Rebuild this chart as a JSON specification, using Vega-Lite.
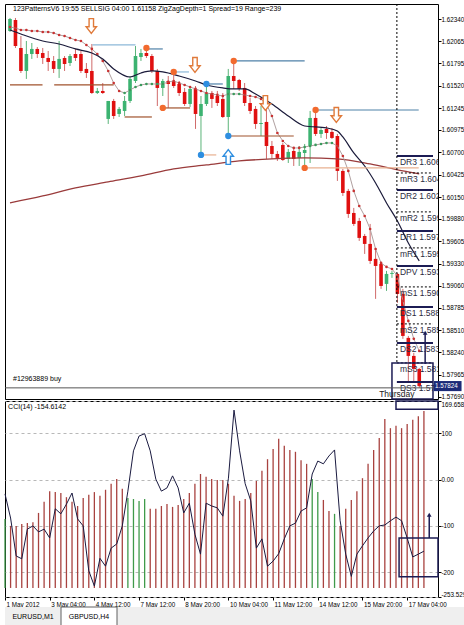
{
"$schema": "https://vega.github.io/schema/vega-lite/v6.json",
"padding": {"left": 2, "top": 3, "right": 0, "bottom": 0},
"background": "#ffffff",
"bounds": "flush",
"spacing": 2,
"config": {
  "view": {"stroke": "#000000", "strokeWidth": 1},
  "font": "Liberation Sans",
  "axis": {"labelFont": "Liberation Sans", "labelFontSize": 6.3, "labelColor": "#000000", "tickColor": "#000000", "tickSize": 3, "domain": false, "title": null, "labelOverlap": false, "labelFlush": false, "grid": false, "labelPadding": 0}
},
"datasets": {
  "candles": [
{"i":0,"o":1.62193,"h":1.62353,"l":1.62181,"c":1.62341},
{"i":1,"o":1.62328,"h":1.62353,"l":1.61984,"c":1.62008},
{"i":2,"o":1.61984,"h":1.62131,"l":1.61676,"c":1.61701},
{"i":3,"o":1.61701,"h":1.62070,"l":1.61603,"c":1.61910},
{"i":4,"o":1.61910,"h":1.62045,"l":1.61849,"c":1.61972},
{"i":5,"o":1.61972,"h":1.61996,"l":1.61861,"c":1.61910},
{"i":6,"o":1.61922,"h":1.61984,"l":1.61787,"c":1.61861},
{"i":7,"o":1.61861,"h":1.61947,"l":1.61701,"c":1.61812},
{"i":8,"o":1.61824,"h":1.61885,"l":1.61676,"c":1.61726},
{"i":9,"o":1.61726,"h":1.62070,"l":1.61615,"c":1.61849},
{"i":10,"o":1.61861,"h":1.61885,"l":1.61701,"c":1.61787},
{"i":11,"o":1.61799,"h":1.61910,"l":1.61762,"c":1.61885},
{"i":12,"o":1.61910,"h":1.61972,"l":1.61824,"c":1.61861},
{"i":13,"o":1.61910,"h":1.61947,"l":1.61676,"c":1.61701},
{"i":14,"o":1.61726,"h":1.61799,"l":1.61615,"c":1.61676},
{"i":15,"o":1.61701,"h":1.62033,"l":1.61418,"c":1.61430},
{"i":16,"o":1.61430,"h":1.61492,"l":1.61418,"c":1.61455},
{"i":17,"o":1.61455,"h":1.61553,"l":1.61418,"c":1.61430},
{"i":18,"o":1.61111,"h":1.61332,"l":1.61049,"c":1.61332},
{"i":19,"o":1.61332,"h":1.61357,"l":1.61111,"c":1.61147},
{"i":20,"o":1.61172,"h":1.61258,"l":1.61135,"c":1.61234},
{"i":21,"o":1.61209,"h":1.61393,"l":1.61147,"c":1.61332},
{"i":22,"o":1.61332,"h":1.61639,"l":1.61307,"c":1.61603},
{"i":23,"o":1.61578,"h":1.62008,"l":1.61553,"c":1.61885},
{"i":24,"o":1.61873,"h":1.61972,"l":1.61824,"c":1.61922},
{"i":25,"o":1.61922,"h":1.61984,"l":1.61861,"c":1.61885},
{"i":26,"o":1.61885,"h":1.61910,"l":1.61676,"c":1.61701},
{"i":27,"o":1.61701,"h":1.61726,"l":1.61270,"c":1.61492},
{"i":28,"o":1.61492,"h":1.61603,"l":1.61393,"c":1.61578},
{"i":29,"o":1.61578,"h":1.61639,"l":1.61246,"c":1.61541},
{"i":30,"o":1.61578,"h":1.61676,"l":1.61492,"c":1.61516},
{"i":31,"o":1.61541,"h":1.61578,"l":1.61393,"c":1.61430},
{"i":32,"o":1.61443,"h":1.61492,"l":1.61270,"c":1.61295},
{"i":33,"o":1.61295,"h":1.61516,"l":1.61258,"c":1.61480},
{"i":34,"o":1.61480,"h":1.61516,"l":1.60988,"c":1.61172},
{"i":35,"o":1.61147,"h":1.61393,"l":1.60680,"c":1.61295},
{"i":36,"o":1.61295,"h":1.61541,"l":1.61270,"c":1.61430},
{"i":37,"o":1.61430,"h":1.61455,"l":1.61246,"c":1.61357},
{"i":38,"o":1.61393,"h":1.61455,"l":1.61270,"c":1.61307},
{"i":39,"o":1.61357,"h":1.61430,"l":1.61123,"c":1.61135},
{"i":40,"o":1.61135,"h":1.61726,"l":1.60901,"c":1.61639},
{"i":41,"o":1.61639,"h":1.61824,"l":1.61480,"c":1.61578},
{"i":42,"o":1.61590,"h":1.61603,"l":1.61455,"c":1.61480},
{"i":43,"o":1.61492,"h":1.61553,"l":1.61270,"c":1.61307},
{"i":44,"o":1.61307,"h":1.61369,"l":1.61172,"c":1.61209},
{"i":45,"o":1.61234,"h":1.61270,"l":1.60988,"c":1.61049},
{"i":46,"o":1.61049,"h":1.61270,"l":1.60901,"c":1.61061},
{"i":47,"o":1.61074,"h":1.61307,"l":1.60619,"c":1.60778},
{"i":48,"o":1.60778,"h":1.60840,"l":1.60619,"c":1.60680},
{"i":49,"o":1.60680,"h":1.60717,"l":1.60594,"c":1.60631},
{"i":50,"o":1.60791,"h":1.60815,"l":1.60594,"c":1.60606},
{"i":51,"o":1.60619,"h":1.60742,"l":1.60569,"c":1.60705},
{"i":52,"o":1.60717,"h":1.60742,"l":1.60532,"c":1.60619},
{"i":53,"o":1.60631,"h":1.60778,"l":1.60532,"c":1.60705},
{"i":54,"o":1.60692,"h":1.60803,"l":1.60532,"c":1.60729},
{"i":55,"o":1.60778,"h":1.61209,"l":1.60569,"c":1.61123},
{"i":56,"o":1.61123,"h":1.61221,"l":1.60901,"c":1.60926},
{"i":57,"o":1.60926,"h":1.61000,"l":1.60877,"c":1.60975},
{"i":58,"o":1.60988,"h":1.61024,"l":1.60865,"c":1.60938},
{"i":59,"o":1.60951,"h":1.61000,"l":1.60865,"c":1.60877},
{"i":60,"o":1.60901,"h":1.60926,"l":1.60348,"c":1.60471},
{"i":61,"o":1.60471,"h":1.60496,"l":1.60163,"c":1.60200},
{"i":62,"o":1.60225,"h":1.60250,"l":1.59893,"c":1.59942},
{"i":63,"o":1.59954,"h":1.60016,"l":1.59794,"c":1.59819},
{"i":64,"o":1.59856,"h":1.59893,"l":1.59610,"c":1.59647},
{"i":65,"o":1.59671,"h":1.59696,"l":1.59450,"c":1.59573},
{"i":66,"o":1.59573,"h":1.59819,"l":1.59327,"c":1.59364},
{"i":67,"o":1.59389,"h":1.59524,"l":1.58897,"c":1.59302},
{"i":68,"o":1.59327,"h":1.59339,"l":1.59020,"c":1.59056},
{"i":69,"o":1.59081,"h":1.59241,"l":1.58995,"c":1.59204},
{"i":70,"o":1.59204,"h":1.59241,"l":1.59155,"c":1.59216},
{"i":71,"o":1.59204,"h":1.59216,"l":1.58847,"c":1.58958},
{"i":72,"o":1.58958,"h":1.59020,"l":1.58405,"c":1.58441},
{"i":73,"o":1.58417,"h":1.58441,"l":1.57863,"c":1.58195},
{"i":74,"o":1.58195,"h":1.58232,"l":1.57863,"c":1.58035},
{"i":75,"o":1.58035,"h":1.58048,"l":1.57802,"c":1.57824}
  ],
  "ma": [{"i":0,"v":1.62205},{"i":2,"v":1.62156},{"i":6,"v":1.62070},{"i":9,"v":1.62033},{"i":12,"v":1.61972},{"i":15,"v":1.61922},{"i":17,"v":1.61849},{"i":19,"v":1.61726},{"i":22,"v":1.61627},{"i":24,"v":1.61676},{"i":26,"v":1.61701},{"i":28,"v":1.61689},{"i":31,"v":1.61639},{"i":34,"v":1.61578},{"i":36,"v":1.61529},{"i":39,"v":1.61492},{"i":41,"v":1.61480},{"i":43,"v":1.61480},{"i":45,"v":1.61418},{"i":48,"v":1.61295},{"i":51,"v":1.61147},{"i":54,"v":1.61024},{"i":58,"v":1.61000},{"i":60,"v":1.60963},{"i":61,"v":1.60889},{"i":63,"v":1.60692},{"i":65,"v":1.60532},{"i":67,"v":1.60323},{"i":69,"v":1.60077},{"i":71,"v":1.59856},{"i":73,"v":1.59585},{"i":75,"v":1.59364}],
  "ma200": [{"i":0,"v":1.60077},{"i":6,"v":1.60163},{"i":12,"v":1.60262},{"i":18,"v":1.60336},{"i":24,"v":1.60410},{"i":30,"v":1.60496},{"i":36,"v":1.60545},{"i":42,"v":1.60594},{"i":48,"v":1.60619},{"i":54,"v":1.60631},{"i":60,"v":1.60619},{"i":66,"v":1.60557},{"i":72,"v":1.60471},{"i":75,"v":1.60434}],
  "trend": [
{"i":0,"v":1.62242,"seg":"dn"},{"i":1,"v":1.62230,"seg":"dn"},{"i":2,"v":1.62205,"seg":"dn"},{"i":3,"v":1.62205,"seg":"dn"},{"i":4,"v":1.62193,"seg":"dn"},{"i":5,"v":1.62193,"seg":"dn"},{"i":6,"v":1.62181,"seg":"dn"},{"i":7,"v":1.62181,"seg":"dn"},{"i":8,"v":1.62168,"seg":"dn"},{"i":9,"v":1.62144,"seg":"dn"},{"i":10,"v":1.62131,"seg":"dn"},{"i":11,"v":1.62107,"seg":"dn"},{"i":12,"v":1.62082,"seg":"dn"},{"i":13,"v":1.62070,"seg":"dn"},{"i":14,"v":1.62021,"seg":"dn"},{"i":15,"v":1.61972,"seg":"dn"},{"i":16,"v":1.61910,"seg":"dn"},{"i":17,"v":1.61824,"seg":"dn"},{"i":18,"v":1.61701,"seg":"dn"},{"i":19,"v":1.61553,"seg":"dn"},{"i":20,"v":1.61455,"seg":"dn"},
{"i":21,"v":1.61430,"seg":"up"},{"i":22,"v":1.61467,"seg":"up"},{"i":23,"v":1.61504,"seg":"up"},{"i":24,"v":1.61529,"seg":"up"},{"i":25,"v":1.61541,"seg":"up"},{"i":26,"v":1.61541,"seg":"up"},{"i":27,"v":1.61541,"seg":"up"},{"i":28,"v":1.61541,"seg":"up"},
{"i":29,"v":1.61566,"seg":"dn"},{"i":30,"v":1.61578,"seg":"dn"},{"i":31,"v":1.61553,"seg":"dn"},{"i":32,"v":1.61529,"seg":"dn"},{"i":33,"v":1.61504,"seg":"dn"},{"i":34,"v":1.61480,"seg":"dn"},{"i":35,"v":1.61455,"seg":"dn"},{"i":36,"v":1.61430,"seg":"dn"},{"i":37,"v":1.61418,"seg":"dn"},{"i":38,"v":1.61406,"seg":"dn"},{"i":39,"v":1.61393,"seg":"dn"},
{"i":40,"v":1.61418,"seg":"up"},{"i":41,"v":1.61418,"seg":"up"},{"i":42,"v":1.61418,"seg":"up"},
{"i":43,"v":1.61406,"seg":"dn"},{"i":44,"v":1.61393,"seg":"dn"},{"i":45,"v":1.61381,"seg":"dn"},{"i":46,"v":1.61357,"seg":"dn"},{"i":47,"v":1.61295,"seg":"dn"},{"i":48,"v":1.61147,"seg":"dn"},{"i":49,"v":1.60938,"seg":"dn"},{"i":50,"v":1.60840,"seg":"dn"},{"i":51,"v":1.60778,"seg":"dn"},{"i":52,"v":1.60754,"seg":"dn"},{"i":53,"v":1.60754,"seg":"dn"},
{"i":54,"v":1.60766,"seg":"up"},{"i":55,"v":1.60778,"seg":"up"},{"i":56,"v":1.60791,"seg":"up"},{"i":57,"v":1.60803,"seg":"up"},{"i":58,"v":1.60815,"seg":"up"},{"i":59,"v":1.60815,"seg":"up"},
{"i":60,"v":1.60778,"seg":"dn"},{"i":61,"v":1.60655,"seg":"dn"},{"i":62,"v":1.60471,"seg":"dn"},{"i":63,"v":1.60225,"seg":"dn"},{"i":64,"v":1.60040,"seg":"dn"},{"i":65,"v":1.59917,"seg":"dn"},{"i":66,"v":1.59757,"seg":"dn"},{"i":67,"v":1.59511,"seg":"dn"},{"i":68,"v":1.59339,"seg":"dn"},{"i":69,"v":1.59290,"seg":"dn"},{"i":70,"v":1.59265,"seg":"dn"},{"i":71,"v":1.59179,"seg":"dn"},{"i":72,"v":1.58872,"seg":"dn"},{"i":73,"v":1.58626,"seg":"dn"},{"i":74,"v":1.58405,"seg":"dn"},{"i":75,"v":1.58257,"seg":"dn"}
  ],
  "segs": [
{"x0":0,"x1":5.96,"p":1.61529,"role":"low"},
{"x0":8.1,"x1":19.0,"p":1.61529,"role":"low"},
{"x0":15.1,"x1":23.0,"p":1.62021,"role":"high2"},
{"x0":21,"x1":26,"p":1.61135,"role":"low"},
{"x0":25,"x1":28,"p":1.61972,"role":"high"},
{"x0":30,"x1":32.8,"p":1.61689,"role":"high2"},
{"x0":28,"x1":33,"p":1.61246,"role":"low"},
{"x0":36,"x1":39,"p":1.61541,"role":"high"},
{"x0":41,"x1":54,"p":1.61824,"role":"high"},
{"x0":35,"x1":37.8,"p":1.60668,"role":"base"},
{"x0":40,"x1":52,"p":1.60901,"role":"low"},
{"x0":56,"x1":74.9,"p":1.61221,"role":"high"},
{"x0":54,"x1":74.9,"p":1.60508,"role":"base"}
  ],
  "dots": [
{"i":25,"p":1.61984,"sig":"sell"},{"i":30,"p":1.61689,"sig":"sell"},{"i":28,"p":1.61246,"sig":"sell"},{"i":41,"p":1.61824,"sig":"sell"},{"i":56,"p":1.61221,"sig":"sell"},{"i":54,"p":1.60508,"sig":"sell"},
{"i":36,"p":1.61541,"sig":"buy"},{"i":35,"p":1.60668,"sig":"buy"},{"i":40,"p":1.60901,"sig":"buy"}
  ],
  "arrows": [
{"i":14.9,"p":1.62254,"dir":"down"},{"i":33.9,"p":1.61775,"dir":"down"},{"i":46.8,"p":1.61307,"dir":"down"},{"i":59.8,"p":1.61160,"dir":"down"},{"i":40,"p":1.60643,"dir":"up"}
  ],
  "levels": [
{"lbl":"DR3 1.6066","p":1.60655,"kind":"D"},{"lbl":"mR3 1.6045","p":1.60446,"kind":"m"},{"lbl":"DR2 1.6024","p":1.60237,"kind":"D"},{"lbl":"mR2 1.5997","p":1.59967,"kind":"m"},{"lbl":"DR1 1.5973","p":1.59733,"kind":"D"},{"lbl":"mR1 1.5952","p":1.59524,"kind":"m"},{"lbl":"DPV 1.5930","p":1.59302,"kind":"D"},{"lbl":"mS1 1.5904","p":1.59044,"kind":"m"},{"lbl":"DS1 1.5880","p":1.58798,"kind":"D"},{"lbl":"mS2 1.5859","p":1.58589,"kind":"m"},{"lbl":"DS2 1.5836","p":1.58355,"kind":"D"},{"lbl":"mS3 1.5811","p":1.58109,"kind":"m"},{"lbl":"DS3 1.5788","p":1.57875,"kind":"D"}
  ],
  "cci": [
{"i":0,"v":-31},{"i":1,"v":-83},{"i":2,"v":-165},{"i":3,"v":-171},{"i":4,"v":-107},{"i":5,"v":-100},{"i":6,"v":-113},{"i":7,"v":-107},{"i":8,"v":-126},{"i":9,"v":-63},{"i":10,"v":-74},{"i":11,"v":-53},{"i":12,"v":-29},{"i":13,"v":-85},{"i":14,"v":-100},{"i":15,"v":-197},{"i":16,"v":-230},{"i":17,"v":-170},{"i":18,"v":-187},{"i":19,"v":-148},{"i":20,"v":-139},{"i":21,"v":-100},{"i":22,"v":-25},{"i":23,"v":62},{"i":24,"v":94},{"i":25,"v":99},{"i":26,"v":62},{"i":27,"v":1},{"i":28,"v":-25},{"i":29,"v":-18},{"i":30,"v":8},{"i":31,"v":-18},{"i":32,"v":-72},{"i":33,"v":-51},{"i":34,"v":-118},{"i":35,"v":-161},{"i":36,"v":-51},{"i":37,"v":-57},{"i":38,"v":-61},{"i":39,"v":-79},{"i":40,"v":3},{"i":41,"v":150},{"i":42,"v":62},{"i":43,"v":-9},{"i":44,"v":-46},{"i":45,"v":-148},{"i":46,"v":-128},{"i":47,"v":-187},{"i":48,"v":-176},{"i":49,"v":-160},{"i":50,"v":-128},{"i":51,"v":-100},{"i":52,"v":-94},{"i":53,"v":-68},{"i":54,"v":-61},{"i":55,"v":12},{"i":56,"v":40},{"i":57,"v":34},{"i":58,"v":51},{"i":59,"v":64},{"i":60,"v":-89},{"i":61,"v":-161},{"i":62,"v":-209},{"i":63,"v":-161},{"i":64,"v":-143},{"i":65,"v":-126},{"i":66,"v":-111},{"i":67,"v":-100},{"i":68,"v":-98},{"i":69,"v":-89},{"i":70,"v":-81},{"i":71,"v":-89},{"i":72,"v":-126},{"i":73,"v":-167},{"i":74,"v":-161},{"i":75,"v":-154.6142}
  ],
  "hist": [
{"i":0,"v":-85,"state":"buy"},{"i":1,"v":-100,"state":"sell"},{"i":2,"v":-100,"state":"sell"},{"i":3,"v":-96,"state":"sell"},{"i":4,"v":-94,"state":"sell"},{"i":5,"v":-92,"state":"sell"},{"i":6,"v":-72,"state":"sell"},{"i":7,"v":-48,"state":"sell"},{"i":8,"v":-25,"state":"sell"},{"i":9,"v":-27,"state":"sell"},{"i":10,"v":-29,"state":"sell"},{"i":11,"v":-38,"state":"sell"},{"i":12,"v":-48,"state":"sell"},{"i":13,"v":-57,"state":"sell"},{"i":14,"v":-40,"state":"sell"},{"i":15,"v":-33,"state":"sell"},{"i":16,"v":-27,"state":"sell"},{"i":17,"v":-35,"state":"sell"},{"i":18,"v":-22,"state":"sell"},{"i":19,"v":-9,"state":"sell"},{"i":20,"v":1,"state":"sell"},{"i":21,"v":-20,"state":"sell"},{"i":22,"v":-40,"state":"buy"},{"i":23,"v":-42,"state":"buy"},{"i":24,"v":-46,"state":"buy"},{"i":25,"v":-42,"state":"buy"},{"i":26,"v":-63,"state":"sell"},{"i":27,"v":-63,"state":"sell"},{"i":28,"v":-57,"state":"sell"},{"i":29,"v":-53,"state":"sell"},{"i":30,"v":-59,"state":"sell"},{"i":31,"v":-55,"state":"sell"},{"i":32,"v":-42,"state":"sell"},{"i":33,"v":-29,"state":"sell"},{"i":34,"v":-9,"state":"sell"},{"i":35,"v":12,"state":"sell"},{"i":36,"v":6,"state":"sell"},{"i":37,"v":1,"state":"sell"},{"i":38,"v":-1,"state":"sell"},{"i":39,"v":-1,"state":"sell"},{"i":40,"v":-9,"state":"sell"},{"i":41,"v":-35,"state":"sell"},{"i":42,"v":-46,"state":"sell"},{"i":43,"v":-42,"state":"sell"},{"i":44,"v":-29,"state":"sell"},{"i":45,"v":-3,"state":"sell"},{"i":46,"v":19,"state":"sell"},{"i":47,"v":44,"state":"sell"},{"i":48,"v":66,"state":"sell"},{"i":49,"v":88,"state":"sell"},{"i":50,"v":73,"state":"sell"},{"i":51,"v":64,"state":"sell"},{"i":52,"v":60,"state":"sell"},{"i":53,"v":42,"state":"sell"},{"i":54,"v":34,"state":"sell"},{"i":55,"v":1,"state":"buy"},{"i":56,"v":-27,"state":"buy"},{"i":57,"v":-44,"state":"sell"},{"i":58,"v":-68,"state":"sell"},{"i":59,"v":-74,"state":"buy"},{"i":60,"v":-100,"state":"sell"},{"i":61,"v":-63,"state":"sell"},{"i":62,"v":-44,"state":"sell"},{"i":63,"v":-25,"state":"sell"},{"i":64,"v":3,"state":"sell"},{"i":65,"v":34,"state":"sell"},{"i":66,"v":64,"state":"sell"},{"i":67,"v":90,"state":"sell"},{"i":68,"v":131,"state":"sell"},{"i":69,"v":111,"state":"sell"},{"i":70,"v":116,"state":"sell"},{"i":71,"v":111,"state":"sell"},{"i":72,"v":120,"state":"sell"},{"i":73,"v":129,"state":"sell"},{"i":74,"v":137,"state":"sell"},{"i":75,"v":148,"state":"sell"}
  ],
  "tabs": [{"tab":"EURUSD,M1","active":false},{"tab":"GBPUSD,H4","active":true}]
},
"vconcat": [
{
  "width": 433, "height": 395,
  "resolve": {"scale": {"color": "independent", "shape": "independent", "size": "independent"}, "axis": {"x": "independent", "y": "independent"}},
  "layer": [
    {"data": {"name": "candles"}, "mark": {"type": "rule", "strokeWidth": 1},
     "encoding": {
       "x": {"field": "i", "type": "quantitative", "scale": {"domain": [0, 77.52], "nice": false, "zero": false}, "axis": null},
       "y": {"field": "l", "type": "quantitative", "scale": {"domain": [1.57665, 1.62525], "nice": false, "zero": false},
             "axis": {"orient": "right", "title": null, "format": ".5f", "labelOverlap": false, "labelPadding": 0, "tickSize": 3, "values": [1.6234,1.62065,1.61795,1.6152,1.61245,1.60975,1.607,1.60425,1.6015,1.5988,1.59605,1.5933,1.5906,1.58785,1.5851,1.5824,1.57965,1.5769]}},
       "y2": {"field": "h"},
       "color": {"condition": {"test": "datum.c >= datum.o", "value": "#5bb47a"}, "value": "#d06a6a"}
     }},
    {"data": {"name": "candles"}, "mark": {"type": "bar", "size": 3.6},
     "encoding": {
       "x": {"field": "i", "type": "quantitative", "axis": null},
       "y": {"field": "o", "type": "quantitative", "axis": null},
       "y2": {"field": "c"},
       "color": {"condition": {"test": "datum.c >= datum.o", "value": "#3cb371"}, "value": "#e01010"}
     }},
    {"data": {"name": "ma200"}, "mark": {"type": "line", "color": "#9a3b3b", "strokeWidth": 1.3, "interpolate": "monotone"},
     "encoding": {"x": {"field": "i", "type": "quantitative", "axis": null}, "y": {"field": "v", "type": "quantitative", "axis": null}}},
    {"data": {"name": "trend"}, "mark": {"type": "line", "color": "#b0a0a0", "strokeWidth": 1},
     "encoding": {"x": {"field": "i", "type": "quantitative", "axis": null}, "y": {"field": "v", "type": "quantitative", "axis": null}}},
    {"data": {"name": "trend"}, "mark": {"type": "point", "filled": true, "size": 7, "opacity": 1},
     "encoding": {"x": {"field": "i", "type": "quantitative", "axis": null}, "y": {"field": "v", "type": "quantitative", "axis": null},
       "color": {"condition": {"test": "datum.seg == 'up'", "value": "#3a9a5c"}, "value": "#c83232"}}},
    {"data": {"name": "ma"}, "mark": {"type": "line", "color": "#1a1a3a", "strokeWidth": 1.2, "interpolate": "monotone"},
     "encoding": {"x": {"field": "i", "type": "quantitative", "axis": null}, "y": {"field": "v", "type": "quantitative", "axis": null}}},
    {"data": {"name": "segs"}, "mark": {"type": "rule"},
     "encoding": {"x": {"field": "x0", "type": "quantitative", "axis": null}, "x2": {"field": "x1"}, "y": {"field": "p", "type": "quantitative", "axis": null},
       "color": {"field": "role", "type": "nominal", "scale": {"domain": ["low", "high", "high2", "base"], "range": ["#a0522d", "#4f81a8", "#8cb8d8", "#e8b090"]}, "legend": null},
       "size": {"field": "role", "type": "nominal", "scale": {"domain": ["low", "high", "high2", "base"], "range": [1.2, 1.2, 1.5, 2.2]}, "legend": null}}},
    {"data": {"name": "dots"}, "mark": {"type": "point", "filled": true, "size": 40, "opacity": 1},
     "encoding": {"x": {"field": "i", "type": "quantitative", "axis": null}, "y": {"field": "p", "type": "quantitative", "axis": null},
       "color": {"condition": {"test": "datum.sig == 'buy'", "value": "#2e8ee0"}, "value": "#f26a2e"}}},
    {"data": {"name": "arrows"}, "mark": {"type": "point", "filled": false, "fill": "#ffffff", "size": 220, "strokeWidth": 1.4, "opacity": 1},
     "encoding": {"x": {"field": "i", "type": "quantitative", "axis": null}, "y": {"field": "p", "type": "quantitative", "axis": null},
       "shape": {"field": "dir", "type": "nominal", "scale": {"domain": ["down", "up"], "range": ["M -0.3 -1 L 0.3 -1 L 0.3 0.1 L 0.7 0.1 L 0 1 L -0.7 0.1 L -0.3 0.1 Z", "M -0.3 1 L 0.3 1 L 0.3 -0.1 L 0.7 -0.1 L 0 -1 L -0.7 -0.1 L -0.3 -0.1 Z"]}, "legend": null},
       "color": {"condition": {"test": "datum.dir == 'up'", "value": "#2e8ee0"}, "value": "#e07a3a"}}},
    {"data": {"name": "levels"}, "transform": [{"filter": "datum.kind == 'D'"}], "mark": {"type": "rule", "color": "#1c1c54", "strokeWidth": 2},
     "encoding": {"x": {"datum": 70.9, "type": "quantitative", "axis": null}, "x2": {"datum": 77.52}, "y": {"field": "p", "type": "quantitative", "axis": null}}},
    {"data": {"name": "levels"}, "transform": [{"filter": "datum.kind == 'm'"}], "mark": {"type": "rule", "color": "#000000", "strokeWidth": 1, "strokeDash": [2, 2]},
     "encoding": {"x": {"datum": 70.9, "type": "quantitative", "axis": null}, "x2": {"datum": 77.52}, "y": {"field": "p", "type": "quantitative", "axis": null}}},
    {"data": {"name": "levels"}, "mark": {"type": "text", "align": "left", "baseline": "top", "dy": 2, "fontSize": 8.5, "color": "#2a2a40", "clip": true},
     "encoding": {"x": {"datum": 71.45, "type": "quantitative", "axis": null}, "y": {"field": "p", "type": "quantitative", "axis": null}, "text": {"field": "lbl"}}},
    {"data": {"values": [{}]}, "mark": {"type": "rule", "color": "#000000", "strokeWidth": 1, "strokeDash": [2, 2]},
     "encoding": {"x": {"datum": 70.9, "type": "quantitative", "axis": null}, "y": {"datum": 1.62525, "type": "quantitative", "axis": null}, "y2": {"datum": 1.58109}}},
    {"data": {"values": [{}]}, "mark": {"type": "rect", "filled": false, "color": "#1c1c54", "strokeWidth": 1.5},
     "encoding": {"x": {"datum": 70.0, "type": "quantitative", "axis": null}, "x2": {"datum": 77.52}, "y": {"datum": 1.58109, "type": "quantitative", "axis": null}, "y2": {"datum": 1.57665}}},
    {"data": {"values": [{}]}, "mark": {"type": "rule", "color": "#1c1c54", "strokeWidth": 1.5},
     "encoding": {"x": {"datum": 76.08, "type": "quantitative", "axis": null}, "y": {"datum": 1.58097, "type": "quantitative", "axis": null}, "y2": {"datum": 1.58470}}},
    {"data": {"values": [{}]}, "mark": {"type": "point", "shape": "triangle-up", "filled": true, "size": 22, "color": "#1c1c54", "opacity": 1},
     "encoding": {"x": {"datum": 76.08, "type": "quantitative", "axis": null}, "y": {"datum": 1.58480, "type": "quantitative", "axis": null}}},
    {"data": {"values": [{}]}, "mark": {"type": "rule", "color": "#555555", "strokeWidth": 1},
     "encoding": {"y": {"datum": 1.57802, "type": "quantitative", "axis": null}}},
    {"data": {"values": [{}]}, "mark": {"type": "text", "align": "left", "baseline": "middle", "fontSize": 7, "color": "#000000", "text": "123PatternsV6 19:55 SELLSIG 04:00 1.61158 ZigZagDepth=1 Spread=19 Range=239"},
     "encoding": {"x": {"datum": 0.55, "type": "quantitative", "axis": null}, "y": {"datum": 1.62463, "type": "quantitative", "axis": null}}},
    {"data": {"values": [{}]}, "mark": {"type": "text", "align": "left", "baseline": "middle", "fontSize": 7, "color": "#000000", "text": "#12963889 buy"},
     "encoding": {"x": {"datum": 0.55, "type": "quantitative", "axis": null}, "y": {"datum": 1.57913, "type": "quantitative", "axis": null}}},
    {"data": {"values": [{}]}, "mark": {"type": "text", "align": "left", "baseline": "middle", "fontSize": 8.5, "color": "#202020", "text": "Thursday"},
     "encoding": {"x": {"datum": 67.65, "type": "quantitative", "axis": null}, "y": {"datum": 1.57728, "type": "quantitative", "axis": null}}},
    {"data": {"values": [{}]}, "mark": {"type": "rect", "color": "#1c2a78"},
     "encoding": {"x": {"datum": 77.69, "type": "quantitative", "axis": null}, "x2": {"datum": 82.75}, "y": {"datum": 1.57886, "type": "quantitative", "axis": null}, "y2": {"datum": 1.57762}}},
    {"data": {"values": [{}]}, "mark": {"type": "text", "align": "left", "baseline": "middle", "fontSize": 6.3, "color": "#ffffff", "text": "1.57824"},
     "encoding": {"x": {"datum": 77.9, "type": "quantitative", "axis": null}, "y": {"datum": 1.57824, "type": "quantitative", "axis": null}}}
  ]
},
{
  "bounds": "flush",
  "spacing": 10,
  "vconcat": [
    {
      "width": 433, "height": 196,
      "resolve": {"axis": {"x": "independent", "y": "independent"}},
      "layer": [
        {"data": {"name": "hist"}, "mark": {"type": "rule", "strokeWidth": 1.3},
         "encoding": {
           "x": {"field": "i", "type": "quantitative", "scale": {"domain": [0, 77.52], "nice": false, "zero": false},
                 "axis": {"orient": "bottom", "title": null, "values": [0,8,16,24,32,40,48,56,64,72], "labelAlign": "left", "labelOffset": 1, "tickSize": 3, "labelPadding": 1, "labelOverlap": false,
                          "labelExpr": "['1 May 2012','3 May 04:00','4 May 12:00','7 May 12:00','8 May 20:00','10 May 04:00','11 May 12:00','14 May 12:00','15 May 20:00','17 May 04:00'][round(datum.value/8)]"}},
           "y": {"field": "v", "type": "quantitative", "scale": {"domain": [-253.529, 169.658], "nice": false, "zero": false},
                 "axis": {"orient": "right", "title": null, "labelOverlap": false, "labelFlush": true, "labelPadding": 0, "tickSize": 3, "values": [169.658, 100, 0, -100, -200, -253.529], "labelExpr": "datum.value == 0 ? '0.00' : '' + datum.value", "grid": true, "gridDash": [3, 3], "gridColor": "#b8b8b8"}},
           "y2": {"datum": -234},
           "color": {"condition": {"test": "datum.state == 'buy'", "value": "#3f9a4a"}, "value": "#a8423f"}
         }},
        {"data": {"name": "cci"}, "mark": {"type": "line", "color": "#1a1a40", "strokeWidth": 1},
         "encoding": {"x": {"field": "i", "type": "quantitative", "axis": null}, "y": {"field": "v", "type": "quantitative", "axis": null}}},
        {"data": {"values": [{}]}, "mark": {"type": "rect", "filled": false, "color": "#1c1c54", "strokeWidth": 1.5},
         "encoding": {"x": {"datum": 70.55, "type": "quantitative", "axis": null}, "x2": {"datum": 77.52}, "y": {"datum": -126, "type": "quantitative", "axis": null}, "y2": {"datum": -210}}},
        {"data": {"values": [{}]}, "mark": {"type": "rect", "filled": false, "color": "#1c1c54", "strokeWidth": 1.5},
         "encoding": {"x": {"datum": 70.0, "type": "quantitative", "axis": null}, "x2": {"datum": 77.52}, "y": {"datum": 169.658, "type": "quantitative", "axis": null}, "y2": {"datum": 152}}},
        {"data": {"values": [{}]}, "mark": {"type": "rule", "color": "#1c1c54", "strokeWidth": 1.5},
         "encoding": {"x": {"datum": 75.95, "type": "quantitative", "axis": null}, "y": {"datum": -126, "type": "quantitative", "axis": null}, "y2": {"datum": -78}}},
        {"data": {"values": [{}]}, "mark": {"type": "point", "shape": "triangle-up", "filled": true, "size": 22, "color": "#1c1c54", "opacity": 1},
         "encoding": {"x": {"datum": 75.95, "type": "quantitative", "axis": null}, "y": {"datum": -76, "type": "quantitative", "axis": null}}},
        {"data": {"values": [{}]}, "mark": {"type": "text", "align": "left", "baseline": "middle", "fontSize": 7, "color": "#000000", "text": "CCI(14) -154.6142"},
         "encoding": {"x": {"datum": 0.55, "type": "quantitative", "axis": null}, "y": {"datum": 157, "type": "quantitative", "axis": null}}}
      ]
    },
    {
      "width": 462, "height": 19,
      "view": {"stroke": null, "fill": "#efefef"},
      "data": {"name": "tabs"},
      "layer": [
        {"transform": [{"filter": "datum.active"}], "mark": {"type": "rect", "color": "#ffffff", "stroke": "#606060", "strokeWidth": 1},
         "encoding": {"x": {"field": "tab", "type": "nominal", "scale": {"type": "band", "domain": ["EURUSD,M1", "GBPUSD,H4"], "range": [0, 112], "paddingInner": 0, "paddingOuter": 0}, "axis": null}}},
        {"mark": {"type": "text", "fontSize": 7, "color": "#000000", "baseline": "middle"},
         "encoding": {"x": {"field": "tab", "type": "nominal", "axis": null}, "text": {"field": "tab"}}}
      ]
    }
  ]
}
]
}
